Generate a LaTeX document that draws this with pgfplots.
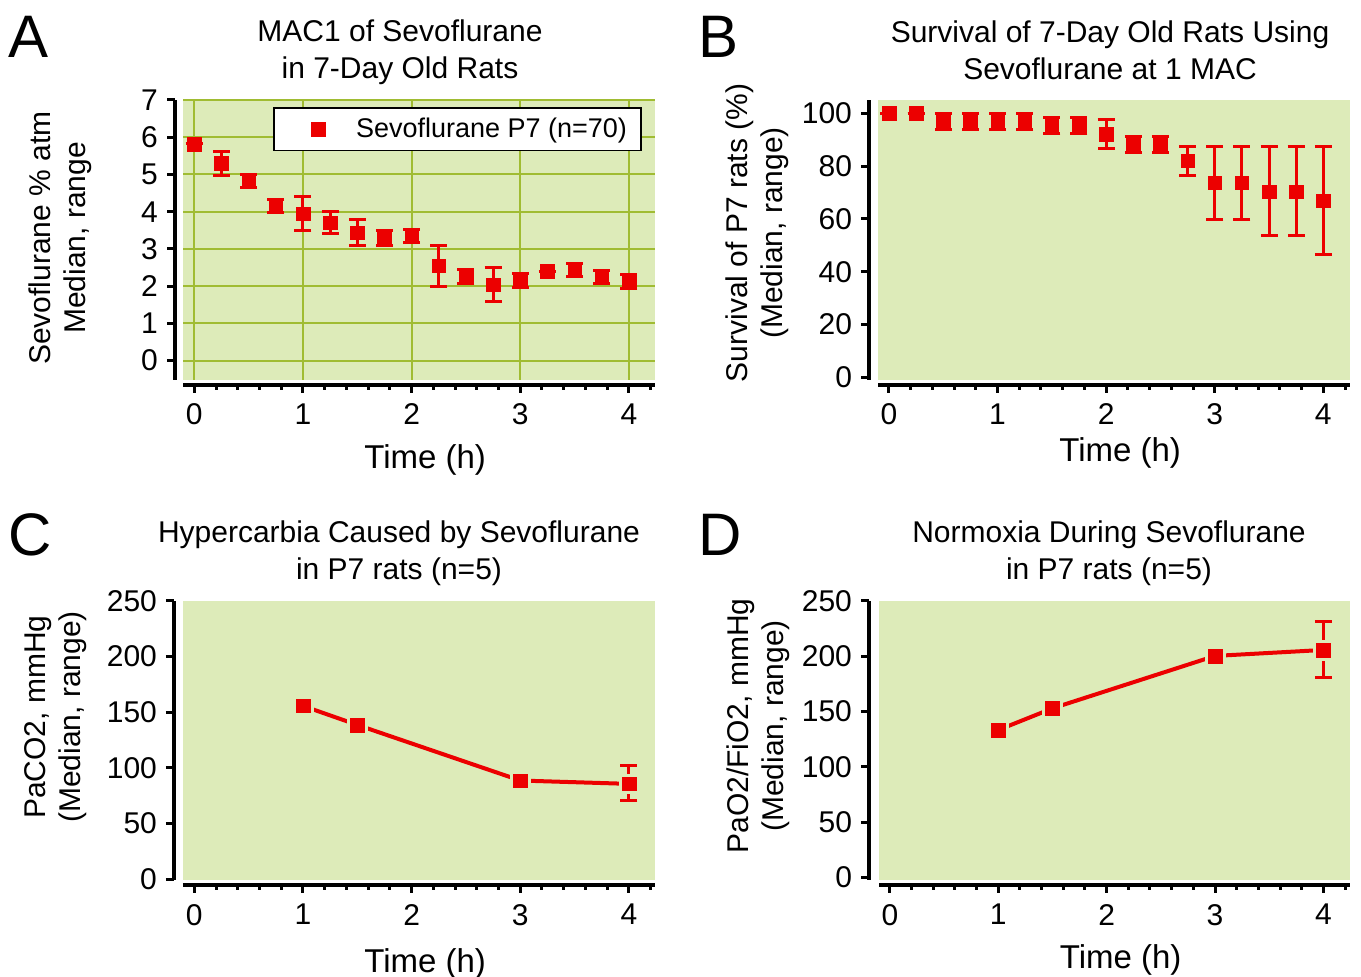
\documentclass[border=0pt]{standalone}
\usepackage{pgfplots}
\pgfplotsset{compat=1.18}
\usepackage{pgfplotstable}
\usepackage{fontspec}
\setmainfont{Liberation Sans}

\definecolor{bggreen}{RGB}{221,235,185}
\definecolor{gridgreen}{RGB}{160,188,50}
\definecolor{mred}{RGB}{236,0,0}

% MAC1, median and range
\pgfplotstableread{
x    y     ep    em
0    5.82  0     0
0.25 5.31  0.30  0.33
0.5  4.82  0.18  0.18
0.75 4.16  0.18  0.18
1.0  3.95  0.46  0.45
1.25 3.70  0.31  0.29
1.5  3.44  0.36  0.35
1.75 3.29  0.21  0.20
2.0  3.35  0.18  0.18
2.25 2.55  0.54  0.56
2.5  2.26  0.18  0.18
2.75 2.04  0.46  0.45
3.0  2.15  0.18  0.18
3.25 2.40  0     0
3.5  2.44  0.17  0.17
3.75 2.24  0.18  0.18
4.0  2.12  0.18  0.18
}\macdata

% survival (%)
\pgfplotstableread{
x    y      ep    em
0    100    0     0
0.25 100    0     0
0.5  96.8   2.9   2.9
0.75 96.8   2.9   2.9
1.0  96.8   2.9   2.9
1.25 96.8   2.9   2.9
1.5  95.2   3.0   3.0
1.75 95.2   3.0   3.0
2.0  92.0   5.5   5.5
2.25 88.0   3.0   3.0
2.5  88.0   3.0   3.0
2.75 82.0   5.3   5.6
3.0  73.7   13.6  13.9
3.25 73.7   13.6  13.9
3.5  70.3   17.0  16.5
3.75 70.3   17.0  16.5
4.0  66.9   20.4  20.3
}\survdata

% PaCO2
\pgfplotstableread{
x    y      ep    em
1.0  155.7  0     0
1.5  138.6  0     0
3.0  88.6   0     0
4.0  85.6   16.2  15.3
}\pacodata

% PaO2/FiO2
\pgfplotstableread{
x    y      ep    em
1.0  133.3  0     0
1.5  152.9  0     0
3.0  200.3  0     0
4.0  205.7  25.6  24.7
}\paodata

\pgfplotsset{
  panel/.style={
    scale only axis, anchor=south west,
    axis x line*=bottom, axis y line*=left,
    axis line style={line width=2pt, black},
    axis background/.style={fill=bggreen},
    tick align=outside,
    major tick length=4pt, minor tick length=2.5pt,
    tick style={line width=1.5pt, black},
    xtick={0,1,2,3,4},
    minor xtick={0.2,0.4,0.6,0.8,1.2,1.4,1.6,1.8,2.2,2.4,2.6,2.8,3.2,3.4,3.6,3.8,4.2},
    tick label style={font=\fontsize{15}{15}\selectfont},
    xticklabel style={yshift=-2pt},
    yticklabel style={xshift=-1pt},
    /pgf/number format/assume math mode=true,
    xlabel={Time (h)},
    xlabel style={font=\fontsize{16.5}{18}\selectfont, anchor=center},
    ylabel style={font=\fontsize{15}{17.5}\selectfont, align=center, anchor=center},
  },
  medmark/.style={
    only marks, mark=square*, mark size=3.4pt,
    mark options={mred, line width=0.2pt},
    error bars/y dir=both, error bars/y explicit,
    error bars/error bar style={line width=1.5pt, mred},
    error bars/error mark options={rotate=90, mark size=4.25pt, line width=1.5pt, mred},
  },
  gapmark/.style={
    only marks, mark=square*, mark size=4.9pt,
    mark options={bggreen, line width=0.2pt},
  },
}

\begin{document}
\begin{tikzpicture}
\useasboundingbox (0,0) rectangle (680.5pt,488.5pt);

% A
\begin{axis}[panel, at={(91.5pt,298.5pt)}, width=236pt, height=140pt,
  xmin=-0.104, xmax=4.24, ymin=-0.52, ymax=7, ytick={0,1,...,7},
  axis y line shift=4pt, axis x line shift=2.5pt,
  grid=major, major grid style={line width=1pt, gridgreen},
  xlabel style={at={(axis description cs:0.513,-0.285)}},
  ylabel={Sevoflurane \% atm\\Median, range},
  ylabel style={at={(axis description cs:-0.26,0.507)}},
  legend style={at={(0.972,0.975)}, anchor=north east, draw=black, line width=0.8pt,
    fill=white, font=\fontsize{13.5}{16}\selectfont, inner xsep=5pt, inner ysep=3pt},
  legend image code/.code={\path[draw=none, fill=none] (0pt,0pt) -- (34pt,0pt);
    \draw plot[only marks] coordinates {(17pt,0pt)};}]
\addplot[medmark] table[x=x, y=y, y error plus=ep, y error minus=em] {\macdata};
\addlegendentry{Sevoflurane P7 (n=70)}
\end{axis}

% B
\begin{axis}[panel, at={(439pt,298.5pt)}, width=236pt, height=140pt,
  xmin=-0.101, xmax=4.246, ymin=-1, ymax=105, ytick={0,20,...,100},
  axis y line shift=4.5pt, axis x line shift=2.5pt,
  xlabel style={at={(axis description cs:0.513,-0.26)}},
  ylabel={Survival of P7 rats (\%)\\(Median, range)},
  ylabel style={at={(axis description cs:-0.256,0.525)}}]
\addplot[medmark] table[x=x, y=y, y error plus=ep, y error minus=em] {\survdata};
\end{axis}

% C
\begin{axis}[panel, at={(91.5pt,48.5pt)}, width=236pt, height=139.5pt,
  xmin=-0.104, xmax=4.24, ymin=-0.8, ymax=250, ytick={0,50,...,250},
  axis y line shift=4.5pt, axis x line shift=2.5pt,
  xlabel style={at={(axis description cs:0.513,-0.3)}},
  ylabel={PaCO2, mmHg\\(Median, range)},
  ylabel style={at={(axis description cs:-0.269,0.584)}}]
\addplot[mred, line width=2pt] table[x=x, y=y] {\pacodata};
\addplot[gapmark] table[x=x, y=y] {\pacodata};
\addplot[medmark] table[x=x, y=y, y error plus=ep, y error minus=em] {\pacodata};
\end{axis}

% D
\begin{axis}[panel, at={(439.5pt,48.5pt)}, width=235.5pt, height=139.5pt,
  xmin=-0.101, xmax=4.246, ymin=-2.4, ymax=250, ytick={0,50,...,250},
  axis y line shift=5pt, axis x line shift=2.5pt,
  xlabel style={at={(axis description cs:0.513,-0.285)}},
  ylabel={PaO2/FiO2, mmHg\\(Median, range)},
  ylabel style={at={(axis description cs:-0.256,0.552)}}]
\addplot[mred, line width=2pt] table[x=x, y=y] {\paodata};
\addplot[gapmark] table[x=x, y=y] {\paodata};
\addplot[medmark] table[x=x, y=y, y error plus=ep, y error minus=em] {\paodata};
\end{axis}

% titles and panel letters
\begin{scope}[every node/.style={align=center, font=\fontsize{15}{18.5}\selectfont}]
\node at (200pt,462.5pt) {MAC1 of Sevoflurane\\in 7-Day Old Rats};
\node at (555pt,463.5pt) {Survival of 7-Day Old Rats Using\\Sevoflurane at 1 MAC};
\node at (199.5pt,212pt) {Hypercarbia Caused by Sevoflurane\\in P7 rats (n=5)};
\node at (554.5pt,212pt) {Normoxia During Sevoflurane\\in P7 rats (n=5)};
\end{scope}
\begin{scope}[every node/.style={font=\fontsize{30}{31}\selectfont}]
\node at (14.5pt,470pt) {A};
\node at (359.5pt,470pt) {B};
\node at (15pt,221pt) {C};
\node at (360pt,221pt) {D};
\end{scope}
\end{tikzpicture}
\end{document}
